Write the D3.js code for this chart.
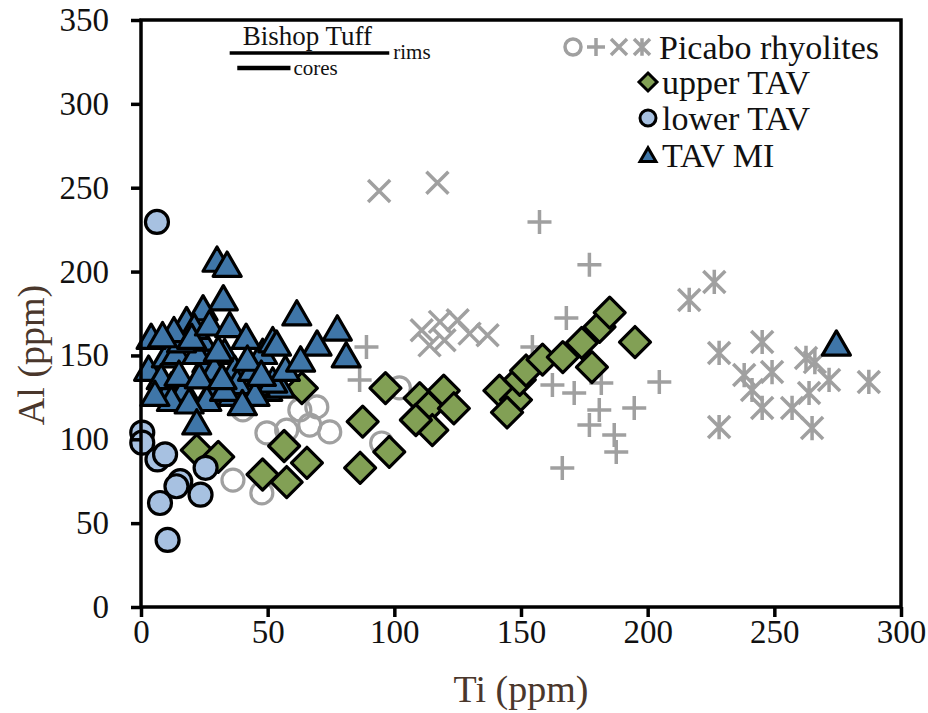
<!DOCTYPE html>
<html>
<head>
<meta charset="utf-8">
<script src="https://cdn.jsdelivr.net/npm/d3@7"></script>
<style>
  html, body { margin: 0; padding: 0; background: #fff; }
  svg text { font-family: "Liberation Serif", "Times New Roman", serif; }
</style>
</head>
<body>
<svg id="chart" width="928" height="713"></svg>
<script>
// Axis ticks
const tiTicks = [0, 50, 100, 150, 200, 250, 300];
const alTicks = [0, 50, 100, 150, 200, 250, 300, 350];

// Picabo rhyolites, four marker styles: [Ti, Al] in ppm
const picaboCircles = [[36.3,75.7],[47.7,68],[49.7,103.8],[57.5,105.5],[62.7,117.5],[69.4,119.3],
  [66.6,108.5],[74.5,104.4],[95,97.8],[40.2,117.5],[102,130.6]];
const picaboPlus = [[157.3,229.6],[177,204],[167.9,172.3],[204.6,134.2],[181.7,133.6],[171,127.6],
  [194.7,118.7],[180.9,117.5],[177,108.5],[186.8,102.6],[187.6,92.4],[166.3,82.9],[162.4,132.4],
  [89,155],[86.3,135.4],[154.5,155]];
const picaboCross = [[94,248],[117,253],[110.8,165],[118,170],[125,171],[129.7,163],[136.8,162],
  [119.8,159],[113.9,156]];
const picaboStar = [[226.3,193.8],[216.4,183.1],[228.2,151.5],[245.2,158],[238.1,138.3],[249.1,140.1],
  [241.2,129.4],[245.2,118.7],[257,118.7],[262.5,148.5],[263.7,127.6],[271.6,135.4],[287.3,134.2],
  [228.2,107.3],[264.9,106.7],[266,146]];

// Upper TAV
const upperTAV = [[22,93.5],[30.5,89.5],[63.5,130.5],[56.5,96],[48,79],[65.5,86],[57.5,74.5],
  [87.5,110.5],[86.5,83],[96.5,130.5],[98,92.5],[110,124.5],[113.5,119],[119.5,129],[123.5,118.5],
  [115,105.5],[108.5,111.5],[141.5,129],[148,123.5],[144.5,116],[149.5,135.5],[152,141],[158.5,147.5],
  [166.5,149],[174,157.5],[178,143],[181,167],[185,175.5],[195,158]];

// Lower TAV
const lowerTAV = [[6.3,229.6],[0.5,104],[0.5,98],[6.5,88],[9.5,91],[15.5,75],[7.5,62],[25.5,83],
  [23.5,67],[10.5,40],[14,72]];

// TAV melt inclusions
const tavMI = [[3,140],[12,130],[36,125],[50,128],[55,130],[17,128],[28,128],[45,131],[10,148],
  [26,145],[33,150],[37,140],[8,135],[14,150],[22,150],[29,140],[38,132],[44,140],[48,150],[52,133],
  [26,122],[33,128],[12,122],[45,125],[57,140],[24,158],[16,157],
  [30,205],[34,202],[32.5,182],[24.5,176],[18,169],[21,165],[13,163],
  [4,159],[8.5,160],[20,159],[27,167],[35,166],[41.5,159],[52,157],[30.5,151.5],[42,146],[5.5,125],
  [15,137],[23,135.5],[32,135],[19,120.5],[40,119.5],[22,108],[61.5,173],[77.5,164],[69.5,155],
  [81,148],[63,145.5],[53.5,155],[47.5,137],[274.5,155]];

// Bishop Tuff Ti ranges
const bishopRims = [35, 98];
const bishopCores = [38, 59];

const svg = d3.select("#chart");
const x = d3.scaleLinear().domain([0, 300]).range([141, 901]);
const y = d3.scaleLinear().domain([0, 350]).range([607, 20]);

const GREY = "#a0a0a0";

// Marker paths
function plusPath(r) { return `M${-r},0H${r}M0,${-r}V${r}`; }
function crossPath(r) { return `M${-r},${-r}L${r},${r}M${-r},${r}L${r},${-r}`; }
function starPath(r) { return crossPath(r) + `M0,${-r * 1.1}V${r * 1.1}`; }
function diamondPath(r) { return `M0,${-r}L${r},0L0,${r}L${-r},0Z`; }

const plot = svg.append("g");

// Picabo rhyolites (drawn underneath)
plot.selectAll(".pc").data(picaboCircles).join("circle")
  .attr("cx", d => x(d[0])).attr("cy", d => y(d[1])).attr("r", 11)
  .attr("fill", "none").attr("stroke", GREY).attr("stroke-width", 3.2);
plot.selectAll(".pp").data(picaboPlus).join("path")
  .attr("transform", d => `translate(${x(d[0])},${y(d[1])})`)
  .attr("d", plusPath(12)).attr("stroke", GREY).attr("stroke-width", 3.5).attr("fill", "none");
plot.selectAll(".px").data(picaboCross).join("path")
  .attr("transform", d => `translate(${x(d[0])},${y(d[1])})`)
  .attr("d", crossPath(11)).attr("stroke", GREY).attr("stroke-width", 3.5).attr("fill", "none");
plot.selectAll(".ps").data(picaboStar).join("path")
  .attr("transform", d => `translate(${x(d[0])},${y(d[1])})`)
  .attr("d", starPath(11)).attr("stroke", GREY).attr("stroke-width", 3.5).attr("fill", "none");

// Upper TAV diamonds
plot.selectAll(".up").data(upperTAV).join("path")
  .attr("transform", d => `translate(${x(d[0])},${y(d[1])})`)
  .attr("d", diamondPath(15.5)).attr("fill", "#82a055").attr("stroke", "#000")
  .attr("stroke-width", 3.2).attr("stroke-linejoin", "round");

// Lower TAV circles
plot.selectAll(".lo").data(lowerTAV).join("circle")
  .attr("cx", d => x(d[0])).attr("cy", d => y(d[1])).attr("r", 11.5)
  .attr("fill", "#a7c1e1").attr("stroke", "#000").attr("stroke-width", 3.2);

// TAV MI triangles
const tri = d3.symbol().type(d3.symbolTriangle).size(340);
plot.selectAll(".mi").data(tavMI).join("path")
  .attr("transform", d => `translate(${x(d[0])},${y(d[1])})`)
  .attr("d", tri()).attr("fill", "#3f76a8").attr("stroke", "#000")
  .attr("stroke-width", 3.2).attr("stroke-linejoin", "round");

// Frame
svg.append("rect").attr("x", x(0)).attr("y", y(350))
  .attr("width", x(300) - x(0)).attr("height", y(0) - y(350))
  .attr("fill", "none").attr("stroke", "#000").attr("stroke-width", 3.5);

// Axes
const xAxis = svg.append("g").attr("transform", `translate(0,${y(0)})`)
  .call(d3.axisBottom(x).tickValues(tiTicks).tickSize(10).tickPadding(3).tickFormat(d3.format("d")));
const yAxis = svg.append("g").attr("transform", `translate(${x(0)},0)`)
  .call(d3.axisLeft(y).tickValues(alTicks).tickSize(10).tickPadding(22).tickFormat(d3.format("d")));
[xAxis, yAxis].forEach(g => {
  g.select(".domain").remove();
  g.selectAll(".tick line").attr("stroke", "#000").attr("stroke-width", 3.5);
  g.selectAll(".tick text").attr("fill", "#111").style("font-size", "33px")
    .style("font-family", "'Liberation Serif', 'Times New Roman', serif");
});
xAxis.selectAll(".tick text").attr("dy", "0.71em");

// Axis titles
svg.append("text").attr("x", (x(0) + x(300)) / 2).attr("y", 702)
  .attr("text-anchor", "middle").attr("fill", "#4a372c").style("font-size", "38px")
  .text("Ti (ppm)");
svg.append("text").attr("transform", `translate(44,355) rotate(-90)`)
  .attr("text-anchor", "middle").attr("fill", "#4a372c").style("font-size", "38px")
  .text("Al (ppm)");

// Bishop Tuff ranges
const rimY = y(330.3), coreY = y(321.4);
svg.append("line").attr("x1", x(bishopRims[0])).attr("x2", x(bishopRims[1]))
  .attr("y1", rimY).attr("y2", rimY).attr("stroke", "#000").attr("stroke-width", 3.5);
svg.append("line").attr("x1", x(bishopCores[0])).attr("x2", x(bishopCores[1]))
  .attr("y1", coreY).attr("y2", coreY).attr("stroke", "#000").attr("stroke-width", 4.5);
svg.append("text").attr("x", (x(bishopRims[0]) + x(bishopRims[1])) / 2 - 2).attr("y", rimY - 8)
  .attr("text-anchor", "middle").style("font-size", "27px").attr("fill", "#111").text("Bishop Tuff");
svg.append("text").attr("x", x(bishopRims[1]) + 4).attr("y", rimY + 6)
  .style("font-size", "21px").attr("fill", "#111").text("rims");
svg.append("text").attr("x", x(bishopCores[1]) + 3).attr("y", coreY + 7)
  .style("font-size", "21px").attr("fill", "#111").text("cores");

// Legend
const leg = svg.append("g");
const lgx = 573;
[0, 1, 2, 3].forEach(i => {
  const cx = lgx + i * 23, cy = 47;
  if (i === 0) leg.append("circle").attr("cx", cx).attr("cy", cy).attr("r", 8)
    .attr("fill", "none").attr("stroke", GREY).attr("stroke-width", 3.5);
  else leg.append("path").attr("transform", `translate(${cx},${cy})`)
    .attr("d", [null, plusPath(9), crossPath(8), starPath(8)][i])
    .attr("stroke", GREY).attr("stroke-width", 3.5).attr("fill", "none");
});
leg.append("path").attr("transform", "translate(648,82)").attr("d", diamondPath(9))
  .attr("fill", "#82a055").attr("stroke", "#000").attr("stroke-width", 3);
leg.append("circle").attr("cx", 648).attr("cy", 118).attr("r", 8)
  .attr("fill", "#a7c1e1").attr("stroke", "#000").attr("stroke-width", 3);
leg.append("path").attr("transform", "translate(648,157)")
  .attr("d", d3.symbol().type(d3.symbolTriangle).size(110)())
  .attr("fill", "#3f76a8").attr("stroke", "#000").attr("stroke-width", 3);
const legendLabels = ["Picabo rhyolites", "upper TAV", "lower TAV", "TAV MI"];
const legendX = [659, 662, 662, 662];
const legendY = [47, 82, 118, 155];
legendLabels.forEach((t, i) => {
  leg.append("text").attr("x", legendX[i]).attr("y", legendY[i]).attr("dy", "0.35em")
    .style("font-size", "34px").attr("fill", "#111").text(t);
});
</script>
</body>
</html>
